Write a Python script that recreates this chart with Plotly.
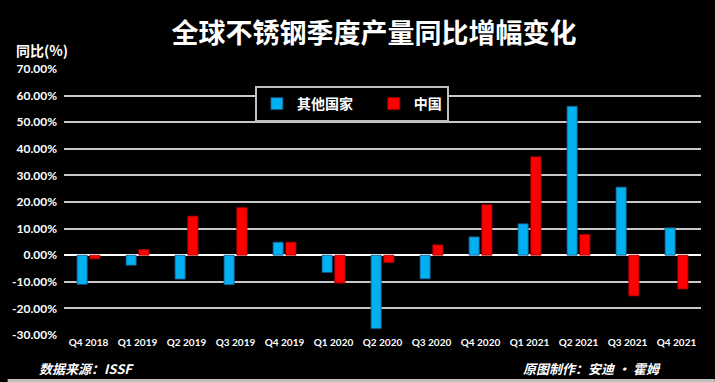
import plotly.graph_objects as go

categories = ["Q4 2018", "Q1 2019", "Q2 2019", "Q3 2019", "Q4 2019", "Q1 2020", "Q2 2020",
              "Q3 2020", "Q4 2020", "Q1 2021", "Q2 2021", "Q3 2021", "Q4 2021"]
other_countries = [-11.0, -3.8, -9.0, -11.1, 4.9, -6.5, -27.6, -8.9, 6.9, 11.8, 56.0, 25.6, 10.3]
china = [-1.4, 2.1, 14.7, 17.9, 4.9, -10.5, -2.8, 3.9, 19.0, 37.0, 7.8, -15.3, -12.7]
y_ticks = [-30, -20, -10, 0, 10, 20, 30, 40, 50, 60, 70]
y_tick_labels = [f"{v:.2f}%" for v in y_ticks]

CJK = "Noto Sans CJK SC"
LAT = "Lato, Noto Sans CJK SC"

fig = go.Figure()
fig.add_trace(go.Bar(
    x=categories, y=other_countries, name="其他国家" + "&nbsp;" * 5,
    marker=dict(color="#00B0F0", line=dict(color="#1F4E79", width=0.8)),
))
fig.add_trace(go.Bar(
    x=categories, y=china, name="中国",
    marker=dict(color="#FF0000", line=dict(color="#A00000", width=0.8)),
))

fig.update_layout(
    width=715, height=382,
    paper_bgcolor="#000000", plot_bgcolor="#000000",
    margin=dict(l=57, r=14, t=69, b=47),
    barmode="group", bargap=0.48, bargroupgap=0.2,
    title=dict(text="<b>全球不锈钢季度产量同比增幅变化</b>",
               font=dict(family=CJK, size=27, color="#FFFFFF"),
               x=374 / 715, xanchor="center", xref="container",
               y=1 - 34 / 382, yanchor="middle", yref="container"),
    legend=dict(orientation="h", x=(250 - 57) / 644, xanchor="left",
                y=(335 - 86) / 266, yanchor="top",
                bgcolor="#000000", bordercolor="#BFBFBF", borderwidth=2,
                font=dict(family=CJK, size=14, color="#FFFFFF", weight="bold"),
                itemwidth=30),
    font=dict(family=LAT, color="#FFFFFF"),
    showlegend=True,
)
fig.update_xaxes(showgrid=False, showline=False, ticks="",
                 tickfont=dict(family=LAT, size=10, color="#FFFFFF", weight="bold"))
fig.update_yaxes(range=[-30, 70], tickvals=y_ticks, ticktext=y_tick_labels,
                 showgrid=True, gridcolor="#C8C8C8", gridwidth=2,
                 zeroline=True, zerolinecolor="#FFFFFF", zerolinewidth=2,
                 ticks="", ticklabelstandoff=6,
                 tickfont=dict(family=LAT, size=12, color="#FFFFFF", weight="bold"))

fig.add_annotation(text="<b>同比(%)</b>", xref="paper", yref="paper",
                   x=-51 / 644, y=(335 - 49.5) / 266, xanchor="left", yanchor="middle",
                   showarrow=False, font=dict(family=CJK, size=14, color="#FFFFFF"))
fig.add_annotation(text="<b><i>数据来源：ISSF</i></b>", xref="paper", yref="paper",
                   x=(30 - 57) / 644, y=(335 - 368) / 266, xanchor="left", yanchor="middle",
                   showarrow=False, font=dict(family=CJK, size=13, color="#FFFFFF"))
fig.add_annotation(text="<b><i>原图制作：安迪 · 霍姆</i></b>", xref="paper", yref="paper",
                   x=(519 - 57) / 644, y=(335 - 368) / 266, xanchor="left", yanchor="middle",
                   showarrow=False, font=dict(family=CJK, size=13, color="#FFFFFF"))
fig.add_shape(type="rect", xref="paper", yref="paper",
              x0=-57 / 644, x1=(715 - 57) / 644, y0=(335 - 383) / 266, y1=(335 - 379) / 266,
              fillcolor="#BFBFBF", line=dict(width=0), layer="above")

fig.write_html("out.html", config={"displayModeBar": False},
               post_script="document.body.style.margin='0';document.body.style.padding='0';"
                           "document.body.style.overflow='hidden';")
